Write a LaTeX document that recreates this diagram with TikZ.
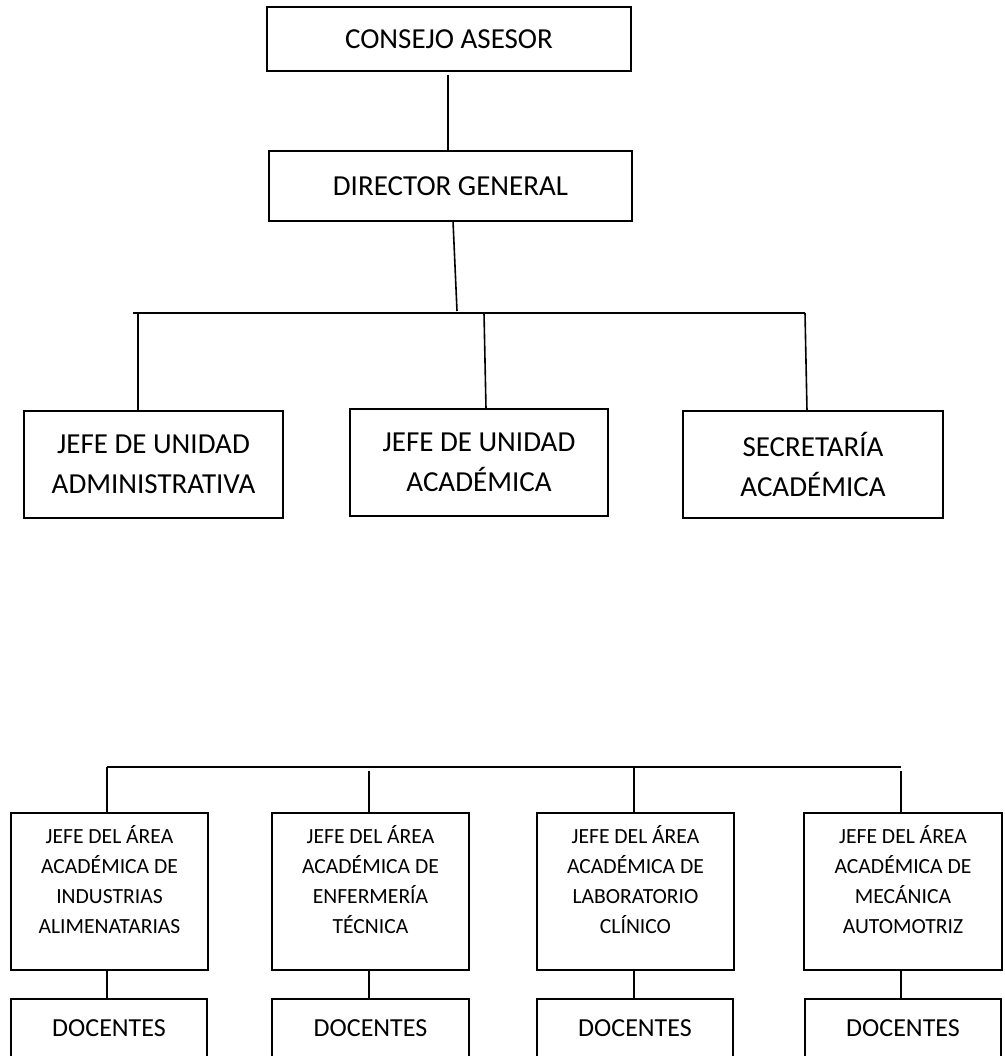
\documentclass[tikz,border=0pt]{standalone}
\usepackage{fontspec}
\setmainfont{Carlito}
\begin{document}
\begin{tikzpicture}[x=1pt,y=-1pt,
  box/.style={draw, line width=1.9pt, inner sep=0pt, outer sep=0pt, align=center},
  conn/.style={line width=1.6pt},
  big/.style={font=\fontsize{29}{40}\selectfont},
  small/.style={font=\fontsize{21.6}{30}\selectfont, align=center, inner sep=0pt},
  doc/.style={font=\fontsize{26}{30}\selectfont}]
\useasboundingbox (0,0) rectangle (1004,1056);
\clip (0,0) rectangle (1004,1056);
\fill[white] (0,0) rectangle (1004,1056);

% top
\node[box,big,minimum width=364pt,minimum height=64pt] (consejo) at (449,39) {CONSEJO ASESOR};
\node[box,big,minimum width=363pt,minimum height=70pt] (director) at (450.5,186) {DIRECTOR GENERAL};

% middle row
\node[box,big,minimum width=259pt,minimum height=107pt] (adm) at (153.5,464.5) {JEFE DE UNIDAD\\ADMINISTRATIVA};
\node[box,big,minimum width=258pt,minimum height=107pt] (acad) at (479,462.5) {JEFE DE UNIDAD\\ACADÉMICA};
\node[box,big,minimum width=260pt,minimum height=107pt] (sec) at (813,464.5) {SECRETARÍA\\ACADÉMICA};

% bottom row
\node[box,minimum width=197pt,minimum height=157pt] (a1) at (109.5,891.5) {};
\node[small] (a1t) at (109.5,880) {JEFE DEL ÁREA\\ACADÉMICA DE\\INDUSTRIAS\\ALIMENATARIAS};
\node[box,minimum width=197pt,minimum height=157pt] (a2) at (370.5,891.5) {};
\node[small] (a2t) at (370.5,880) {JEFE DEL ÁREA\\ACADÉMICA DE\\ENFERMERÍA\\TÉCNICA};
\node[box,minimum width=197pt,minimum height=157pt] (a3) at (635.5,891.5) {};
\node[small] (a3t) at (635.5,880) {JEFE DEL ÁREA\\ACADÉMICA DE\\LABORATORIO\\CLÍNICO};
\node[box,minimum width=198pt,minimum height=157pt] (a4) at (903,891.5) {};
\node[small] (a4t) at (903,880) {JEFE DEL ÁREA\\ACADÉMICA DE\\MECÁNICA\\AUTOMOTRIZ};

% docentes
\node[box,doc,minimum width=196pt,minimum height=59pt] (d1) at (109,1028.5) {DOCENTES};
\node[box,doc,minimum width=197pt,minimum height=59pt] (d2) at (370.5,1028.5) {DOCENTES};
\node[box,doc,minimum width=196pt,minimum height=59pt] (d3) at (635,1028.5) {DOCENTES};
\node[box,doc,minimum width=196pt,minimum height=59pt] (d4) at (903,1028.5) {DOCENTES};

% upper connectors
\coordinate (j0) at (457,311);
\coordinate (bL) at (133,313);
\coordinate (bR) at (805,313);
\coordinate (t1) at (138,313);
\coordinate (t2) at (484,313);
\draw[conn] ([shift={(-1,4)}]consejo.south) -- ([xshift=-2.5pt]director.north);
\draw[conn] ([xshift=2.5pt]director.south) -- (j0);
\draw[conn] (bL) -- (bR);
\draw[conn] (t1) -- (t1 |- adm.north);
\draw[conn] (t2) -- ([xshift=7pt]acad.north);
\draw[conn] (bR) -- ([xshift=-6pt]sec.north);

% lower connectors
\coordinate (cL) at (107,767);
\coordinate (cR) at (901,767);
\coordinate (u2) at (369,771);
\coordinate (u3) at (634,767);
\coordinate (u4) at (901,771);
\draw[conn] (cL) -- (cR);
\draw[conn] (cL) -- (cL |- a1.north);
\draw[conn] (u2) -- (u2 |- a2.north);
\draw[conn] (u3) -- (u3 |- a3.north);
\draw[conn] (u4) -- (u4 |- a4.north);
\draw[conn] (a1.south -| cL) -- (d1.north -| cL);
\draw[conn] (a2.south -| u2) -- (d2.north -| u2);
\draw[conn] (a3.south -| u3) -- (d3.north -| u3);
\draw[conn] (a4.south -| u4) -- (d4.north -| u4);
\end{tikzpicture}
\end{document}
